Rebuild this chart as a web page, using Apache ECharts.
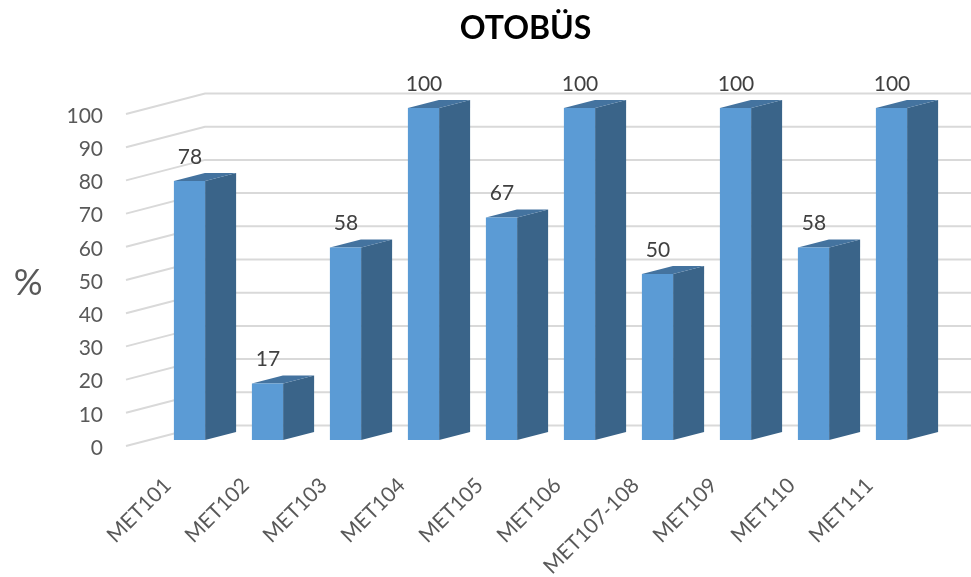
<!DOCTYPE html>
<html>
<head>
<meta charset="utf-8">
<style>html,body{margin:0;padding:0;background:#fff}#c{width:971px;height:577px}</style>
<script src="https://cdn.jsdelivr.net/npm/echarts@6/dist/echarts.min.js"></script>
</head>
<body>
<div id="c"></div>
<script>
var categories = ['MET101','MET102','MET103','MET104','MET105','MET106','MET107-108','MET109','MET110','MET111'];
var values = [78,17,58,100,67,100,50,100,58,100];
var yTicks = [0,10,20,30,40,50,60,70,80,90,100];
var titleText = 'OTOBÜS';
var yName = '%';

var FONT = 'Lato';
var chart = echarts.init(document.getElementById('c'), null, {renderer:'canvas'});

function renderGrid(params, api){
  var p = api.coord([0, api.value(0)]);
  var s = params.coordSys;
  var wallX = s.x + 54.5, leftX = s.x - 24.5;
  return {
    type:'polyline',
    shape:{points:[[leftX,p[1]],[wallX,p[1]-20.5],[971,p[1]-20.5]]},
    style:{stroke:'#D9D9D9',lineWidth:2,fill:null},
    silent:true
  };
}
function renderBar(params, api){
  var c = api.coord([api.value(0), api.value(1)]);
  var b = api.coord([api.value(0), 0]);
  var w = api.size([1,0])[0]*0.4;
  var lift = 6, dx = 31, dy = 8;
  var l = c[0]-w/2, r = c[0]+w/2, t = c[1]-lift, f = b[1]-lift;
  return {type:'group', children:[
    {type:'polygon',shape:{points:[[r,t],[r+dx,t-dy],[r+dx,f-dy],[r,f]]},style:{fill:'#3A6489'}},
    {type:'polygon',shape:{points:[[l,t],[l+dx,t-dy],[r+dx,t-dy],[r,t]]},style:{fill:'#44739F'}},
    {type:'rect',shape:{x:l,y:t,width:w,height:f-t},style:{fill:'#5B9BD5'}},
    {type:'text',style:{text:String(api.value(1)),x:c[0]+0.5,y:t-24,align:'center',verticalAlign:'middle',
      font:'21px '+FONT,fill:'#404040'}}
  ]};
}

chart.setOption({
  animation:false,
  backgroundColor:'#fff',
  textStyle:{fontFamily:FONT},
  title:{text:titleText,left:520.5,textAlign:'center',top:8,
    textStyle:{fontFamily:FONT,fontSize:32,fontWeight:'bold',color:'#000'}},
  grid:{left:150.5,width:780,top:114,height:332,outerBoundsMode:'none'},
  xAxis:{type:'category',data:categories,
    axisLine:{show:false},axisTick:{show:false},splitLine:{show:false},
    axisLabel:{interval:0,rotate:45,margin:14,fontFamily:FONT,fontSize:21,color:'#595959',padding:[0,31,0,0]}},
  yAxis:{type:'value',min:0,max:100,interval:10,
    name:yName,nameLocation:'middle',nameGap:108,nameRotate:0,
    nameTextStyle:{fontFamily:FONT,fontSize:36,color:'#595959',verticalAlign:'top',lineHeight:6},
    axisLine:{show:false},axisTick:{show:false},splitLine:{show:false},
    axisLabel:{margin:47.5,fontFamily:FONT,fontSize:21,color:'#595959',verticalAlign:'top',lineHeight:4,
      formatter:function(v){return yTicks.indexOf(v)>=0?String(v):'';}}},
  series:[
    {type:'custom',renderItem:renderGrid,data:yTicks.map(function(v){return [v];}),encode:{y:0},clip:false,z:1,silent:true},
    {type:'custom',renderItem:renderBar,data:values.map(function(v,i){return [i,v];}),encode:{x:0,y:1},clip:false,z:2,silent:true}
  ]
});
</script>
</body>
</html>
